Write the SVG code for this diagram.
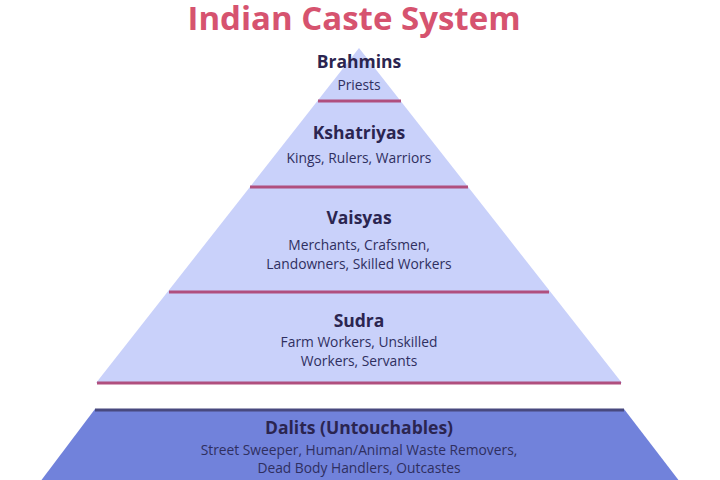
<svg xmlns="http://www.w3.org/2000/svg" width="720" height="480" viewBox="0 0 720 480">
<style>
.title{font-family:"Open Sans","Noto Sans",sans-serif;font-weight:bold;font-size:33px;fill:#d6536f;text-anchor:middle}
.h{font-family:"Open Sans","Noto Sans",sans-serif;font-weight:bold;font-size:17.5px;fill:#2b2550;text-anchor:middle}
.s{font-family:"Open Sans","Noto Sans",sans-serif;font-size:13.8px;fill:#2f2f60;text-anchor:middle}
.tier{fill:#c9d1fa}
.sep{stroke:#b04f7e;stroke-width:3;fill:none}
</style>
<rect width="720" height="480" fill="#ffffff"/>
<text class="title" x="354" y="30">Indian Caste System</text>
<g id="pyramid">
<polygon class="tier" points="359,48 622,383 96,383"/>
</g>
<g id="brahmins">
<text class="h" x="359" y="68">Brahmins</text>
<text class="s" x="359" y="90">Priests</text>
</g>
<g id="kshatriyas">
<text class="h" x="359" y="139">Kshatriyas</text>
<text class="s" x="359" y="163">Kings, Rulers, Warriors</text>
</g>
<g id="vaisyas">
<text class="h" x="359" y="224">Vaisyas</text>
<text class="s" x="359" y="250">Merchants, Crafsmen,</text>
<text class="s" x="359" y="269">Landowners, Skilled Workers</text>
</g>
<g id="sudra">
<text class="h" x="359" y="327">Sudra</text>
<text class="s" x="359" y="347">Farm Workers, Unskilled</text>
<text class="s" x="359" y="366">Workers, Servants</text>
</g>
<g id="dalits">
<polygon points="95,409 624,409 680,482 40,482" fill="#7182db"/>
<line x1="95" y1="410" x2="624" y2="410" stroke="#48497f" stroke-width="3"/>
<text class="h" x="359" y="434">Dalits (Untouchables)</text>
<text class="s" x="359" y="455">Street Sweeper, Human/Animal Waste Removers,</text>
<text class="s" x="359" y="473">Dead Body Handlers, Outcastes</text>
</g>
<g id="connectors">
<line class="sep" x1="318" y1="101" x2="401" y2="101"/>
<line class="sep" x1="250" y1="187" x2="468" y2="187"/>
<line class="sep" x1="169" y1="292" x2="549" y2="292"/>
<line class="sep" x1="97" y1="383" x2="621" y2="383"/>
</g>
</svg>
